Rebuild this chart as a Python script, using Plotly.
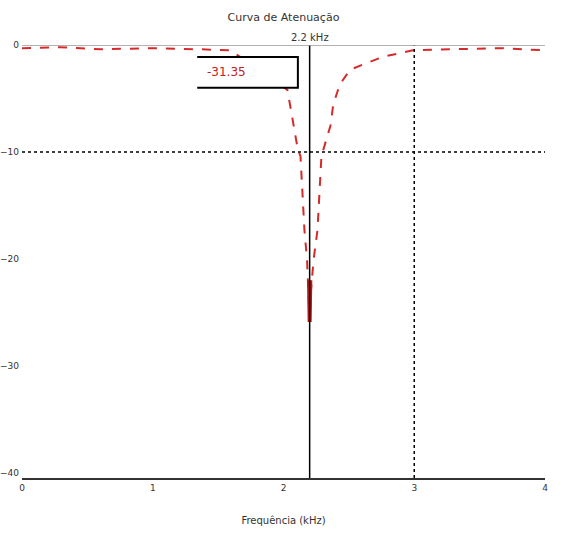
import plotly.graph_objects as go

# Data
freq_khz = [0.0, 0.29, 0.60, 0.98, 1.36, 1.59, 1.82, 2.03, 2.07, 2.11, 2.13, 2.15, 2.16, 2.18,
            2.19, 2.20, 2.21, 2.23, 2.26, 2.27, 2.29, 2.36, 2.38, 2.43, 2.51, 2.76, 2.99, 3.27, 3.66, 4.0]
gain_db = [-0.3, -0.2, -0.4, -0.3, -0.4, -0.5, -2.3, -4.2, -7.0, -9.8, -10.4, -14.5, -17.3, -20.1,
           -23.0, -25.9, -23.0, -20.1, -17.3, -14.5, -10.4, -7.5, -5.6, -3.7, -2.3, -1.1, -0.5, -0.4, -0.3, -0.5]
min_freq = [2.195, 2.20, 2.205]
min_gain = [-22.0, -25.9, -22.0]

notch_khz = 2.2
ref_khz = 3.0
ref_db = -10
min_text = "-31.35"
x_ticks = [0, 1, 2, 3, 4]
y_ticks = [0, -10, -20, -30, -40]

fig = go.Figure()
fig.add_trace(go.Scatter(x=freq_khz, y=gain_db, mode="lines",
                         line=dict(color="#d42a2a", width=2, dash="dash"), showlegend=False))
fig.add_trace(go.Scatter(x=min_freq, y=min_gain, mode="lines",
                         line=dict(color="#c01818", width=4), showlegend=False))

# reference lines
fig.add_shape(type="line", x0=notch_khz, x1=notch_khz, y0=0, y1=1, xref="x", yref="paper",
              line=dict(color="black", width=1.5))
fig.add_shape(type="line", x0=ref_khz, x1=ref_khz, y0=0, y1=1, xref="x", yref="paper",
              line=dict(color="black", width=1.5, dash="dot"))
fig.add_shape(type="line", x0=0, x1=1, y0=ref_db, y1=ref_db, xref="paper", yref="y",
              line=dict(color="black", width=1.5, dash="dot"))
fig.add_shape(type="line", x0=0, x1=1, y0=0, y1=0, xref="paper", yref="y",
              line=dict(color="#999999", width=1.5))

# annotation box
fig.add_shape(type="path", path="M 1.34,-1.12 L 2.11,-1.12 L 2.11,-4.0 L 1.34,-4.0",
              xref="x", yref="y", line=dict(color="black", width=2), fillcolor="white", layer="above")
fig.add_annotation(x=1.40, y=-2.55, xref="x", yref="y", text=min_text, showarrow=False,
                   xanchor="left", font=dict(color="#c02020", size=12))
fig.add_annotation(x=notch_khz, y=1, xref="x", yref="paper", text=f"{notch_khz} kHz", showarrow=False,
                   yanchor="bottom", yshift=0, font=dict(color="#333", size=10))

fig.update_layout(
    width=568, height=544,
    margin=dict(l=22, r=23, t=45, b=66, pad=0, autoexpand=False),
    plot_bgcolor="white", paper_bgcolor="white",
    font=dict(family="DejaVu Sans", size=9, color="#333"),
    title=dict(text="Curva de Atenuação", x=0.5, xref="paper", y=0.975, xanchor="center",
               font=dict(size=11)),
    xaxis=dict(range=[0, 4], tickvals=x_ticks, showgrid=False, zeroline=False, automargin=False,
               showline=True, linecolor="#333", linewidth=2, ticks="",
               title=dict(text="Frequência (kHz)", font=dict(size=10), standoff=25)),
    yaxis=dict(range=[-40.5, 0], tickvals=y_ticks, showgrid=False, zeroline=False, automargin=False,
               showline=False, ticks="", ticklabelstandoff=2),
)

fig.write_html("out.html", config={"displayModeBar": False},
               post_script="document.body.style.margin='0';")
